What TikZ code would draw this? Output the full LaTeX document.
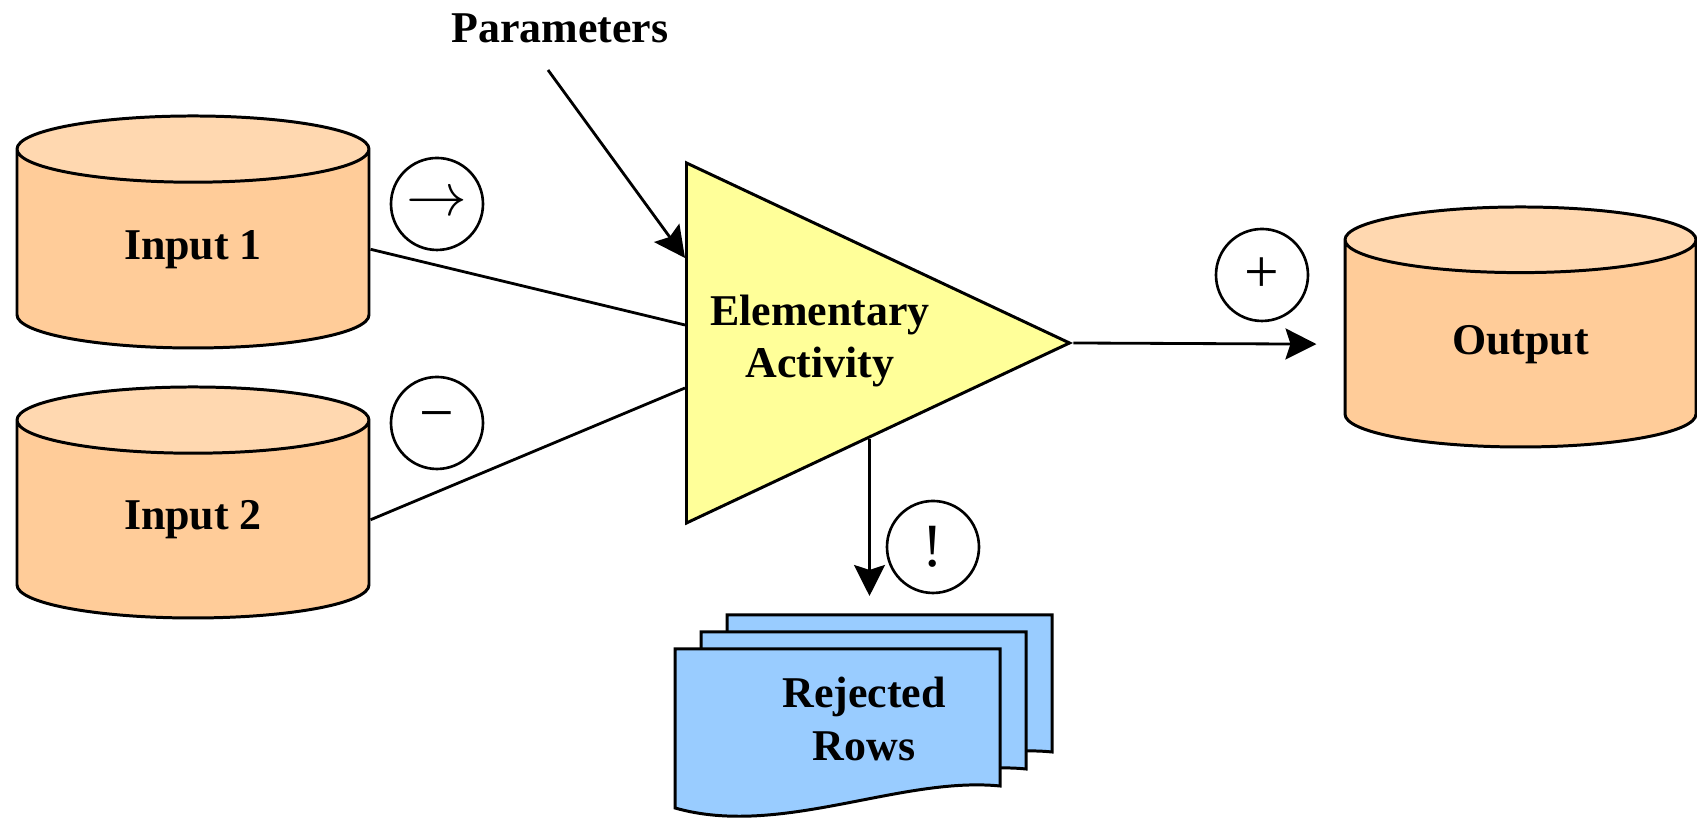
\documentclass[tikz,border=0pt]{standalone}
\usepackage{fontspec}
\setmainfont{Liberation Serif}
\usetikzlibrary{shapes.geometric,arrows.meta,calc}
\definecolor{dbbody}{HTML}{FFCC99}
\definecolor{dbtop}{HTML}{FFD8B0}
\definecolor{actfill}{HTML}{FFFF99}
\definecolor{rowfill}{HTML}{99CCFF}
\begin{document}
\begin{tikzpicture}[
  db/.style={cylinder, shape border rotate=90, draw, line width=0.85pt, aspect=0.48,
    minimum width=3.52cm, cylinder uses custom fill, cylinder body fill=dbbody,
    cylinder end fill=dbtop, inner sep=0pt, font=\fontsize{12.5}{15}\selectfont\bfseries},
  op/.style={circle, draw, line width=0.75pt, minimum size=0.92cm, inner sep=0pt,
    font=\fontsize{17.5}{20}\selectfont},
  lbl/.style={font=\fontsize{12.5}{15}\selectfont\bfseries, align=center},
  flow/.style={line width=0.8pt},
  tip/.style={flow, -{Stealth[length=0.31cm, width=0.31cm, inset=0.05cm]}}
]
\useasboundingbox (0,0) rectangle (16.97,8.18);

% stores
\node[db, minimum height=2.32cm, anchor=shape center] (in1) at (1.93,5.86) {Input 1};
\node[db, minimum height=2.31cm, anchor=shape center] (in2) at (1.93,3.155) {Input 2};
\node[db, minimum height=2.40cm, minimum width=3.51cm, anchor=shape center] (out) at (15.205,4.91) {Output};

% activity
\node[isosceles triangle, isosceles triangle stretches, shape border rotate=0, draw,
  fill=actfill, line width=0.85pt, minimum width=3.60cm, minimum height=3.83cm,
  inner sep=0pt, anchor=lower side] (act) at (6.85,4.75) {};
\node[lbl] (acttxt) at (8.20,4.77) {Elementary\\Activity};
\node[lbl] (par) at (5.60,7.90) {Parameters};

% rejected rows
\foreach \d in {2,1,0}
  \draw[line width=0.85pt, fill=rowfill, shift={(0.26*\d,0.17*\d)}]
    (6.75,1.69) -- (10.00,1.69) -- (10.00,0.32)
    .. controls (9.00,0.42) and (7.80,-0.20) .. (6.75,0.10) -- cycle;
\node[lbl] (rows) at (8.64,0.99) {Rejected\\Rows};

% operators
\node[op] (seqop) at (4.37,6.14) {$\rightarrow$};
\node[op] (minusop) at (4.37,3.95) {−};
\node[op] (plusop) at (12.62,5.43) {+};
\node[op] (errop) at (9.33,2.71) {!};

% flows
\draw[flow] (in1.east) -- ([yshift=0.18cm]act.lower side);
\draw[flow] (in2.east) -- ([yshift=-0.45cm]act.lower side);
\draw[tip] (act.apex) -- ([xshift=-0.27cm]out.west);
\draw[tip] ([xshift=-0.12cm,yshift=-0.15cm]par.south) -- ([yshift=0.85cm]act.lower side);
\coordinate (rejout) at ($(act.apex)!0.525!(act.right corner)$);
\coordinate (rowstop) at (8.67,2.22);
\draw[tip] (rejout) -- (rejout |- rowstop);
\end{tikzpicture}
\end{document}
